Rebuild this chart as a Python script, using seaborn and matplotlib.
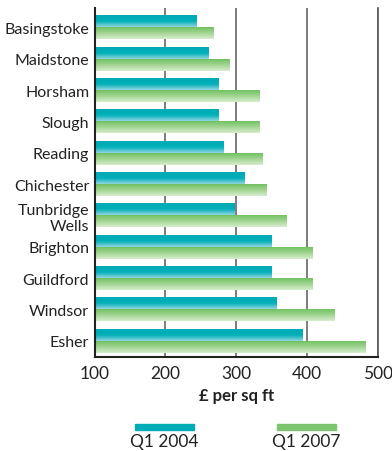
import numpy as np
import pandas as pd
import matplotlib
matplotlib.use("Agg")
import matplotlib.pyplot as plt
import seaborn as sns
from matplotlib.colors import LinearSegmentedColormap
from matplotlib.patches import Rectangle

towns = ["Basingstoke", "Maidstone", "Horsham", "Slough", "Reading", "Chichester",
         "Tunbridge\nWells", "Brighton", "Guildford", "Windsor", "Esher"]
q1_2004 = [244, 260, 274, 274, 281, 311, 297, 349, 349, 356, 393]
q1_2007 = [267, 290, 333, 333, 337, 342, 370, 407, 407, 438, 482]
series = ["Q1 2004", "Q1 2007"]
xticks = [100, 200, 300, 400, 500]

df = pd.DataFrame({"town": towns * 2,
                   "value": q1_2004 + q1_2007,
                   "period": [series[0]] * len(towns) + [series[1]] * len(towns)})

sns.set_theme(style="white")
plt.rcParams['font.family'] = ['Lato', 'DejaVu Sans']

teal = "#00adb6"
green = "#7cc46f"
XMIN = xticks[0]

fig = plt.figure(figsize=(3.92, 4.52), dpi=100)
ax = fig.add_axes([0.2416, 0.208, 0.7219, 0.772])

sns.barplot(data=df, y="town", x="value", hue="period", orient="h",
            palette=[teal, green], width=0.78, gap=0.03, ax=ax, legend=False,
            saturation=1)

ax.set_xlim(XMIN, xticks[-1])
ylim = (len(towns) - 0.5 + 0.02, -0.5 - 0.12)
ax.set_ylim(*ylim)

# gradient fill for bars
cmaps = {
    teal: LinearSegmentedColormap.from_list("t", ["#00abb5", "#00b0b9", "#90d5e0"]),
    green: LinearSegmentedColormap.from_list("g", ["#72c163", "#a2d592", "#d6edce"]),
}
grad = np.linspace(0, 1, 64).reshape(-1, 1)
for p in list(ax.patches):
    w = p.get_width()
    if w <= 0:
        continue
    fc = matplotlib.colors.to_hex(p.get_facecolor())
    cmap = cmaps[teal] if fc.lower() == teal else cmaps[green]
    x0, y0 = p.get_x(), p.get_y()
    h = p.get_height()
    ax.imshow(grad, cmap=cmap, aspect="auto",
              extent=[max(x0, XMIN), x0 + w, y0 + h, y0], zorder=p.get_zorder() + 0.1,
              interpolation="bilinear")
    p.set_edgecolor("none")

ax.set_xlim(XMIN, xticks[-1])
ax.set_ylim(*ylim)
ax.set_xticks(xticks)
ax.set_xticklabels([str(t) for t in xticks], fontsize=12.5, color="#222222")
ax.set_ylabel("")
ax.set_xlabel("£ per sq ft", fontsize=12, fontweight="bold", color="#222222", labelpad=4)

ax.set_yticks(range(len(towns)))
ax.set_yticklabels(towns, fontsize=11.5, color="#222222", linespacing=1.2)
ax.tick_params(axis="y", length=0, pad=4)
ax.tick_params(axis="x", length=0, pad=6)
ax.set_yticks([i + 0.5 for i in range(len(towns) - 1)], minor=True)
ax.tick_params(axis="y", which="minor", length=5, width=1.2, direction="in", color="#222222")

ax.xaxis.grid(True, color="#666666", linewidth=1.2, zorder=0)
ax.set_axisbelow(True)
for s in ["left", "bottom"]:
    ax.spines[s].set_color("#222222")
    ax.spines[s].set_linewidth(1.5)
ax.spines["right"].set_color("#555555")
ax.spines["right"].set_linewidth(1.2)
ax.spines["top"].set_visible(False)

# legend at bottom
for x, col, lab in [(0.344, teal, series[0]), (0.706, green, series[1])]:
    fig.add_artist(Rectangle((x, 1 - 431 / 452), 0.151, 6 / 452,
                             transform=fig.transFigure, color=col))
    fig.text(x + 0.0755, 1 - 442 / 452, lab, ha="center", va="center",
             fontsize=12.5, color="#222222")

fig.savefig("out.png", dpi=100)
